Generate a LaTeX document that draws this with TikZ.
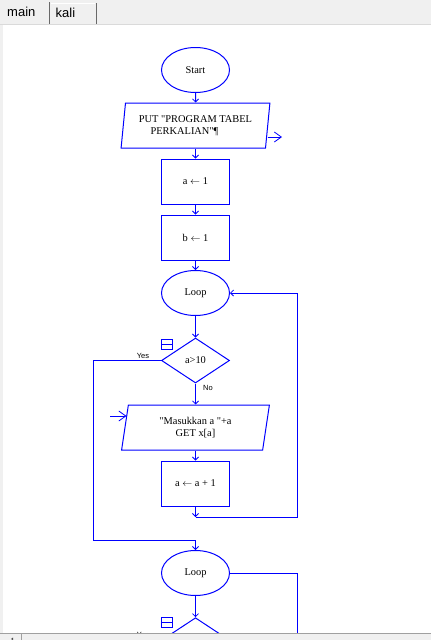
\documentclass[tikz,border=0pt]{standalone}
\usepackage{fontspec}
\setmainfont{Liberation Serif}[Ligatures=TeXOff]
\newfontfamily\uifont{Liberation Sans}
\usetikzlibrary{shapes.geometric,arrows.meta}
\definecolor{flowblue}{RGB}{0,0,255}
\definecolor{panelgray}{RGB}{240,240,240}
\definecolor{framegray}{RGB}{160,160,160}
\definecolor{tabedge}{RGB}{105,105,105}
\definecolor{tabline}{RGB}{218,218,218}

\begin{document}
\begin{tikzpicture}[x=1pt,y=-1pt,
  base/.style={draw=flowblue, line width=1pt, inner sep=0pt, align=center,
    font=\fontsize{10.4}{12}\selectfont},
  term/.style={base, ellipse, minimum width=68pt, minimum height=45pt},
  proc/.style={base, rectangle, minimum width=68pt, minimum height=45pt},
  io/.style={base, trapezium, trapezium left angle=80, trapezium right angle=100,
    trapezium stretches=true, minimum width=149pt, minimum height=45pt},
  cond/.style={base, diamond, minimum width=68pt, minimum height=45pt},
  fold/.style={draw=flowblue, line width=1pt, minimum width=11pt, minimum height=10pt, inner sep=0pt},
  wire/.style={draw=flowblue, line width=1pt},
  flow/.style={wire, -{Straight Barb[length=3pt,width=6pt,line width=0.8pt]}},
  bigflow/.style={wire, -{Straight Barb[length=7pt,width=10pt,line width=0.8pt]}},
  tag/.style={font=\uifont\fontsize{7.5}{9}\selectfont, inner sep=0pt},
  tabtext/.style={font=\uifont\fontsize{13}{15}\selectfont, inner sep=0pt, anchor=base west},
]
\useasboundingbox (0,0) rectangle (431,640);

% window chrome
\fill[panelgray] (0,0) rectangle (431,640);
\fill[white] (3,25) rectangle (431,633);
\draw[tabline] (0,24.5) -- (431,24.5);
\draw[white] (51,3.5) -- (95,3.5);
\draw[tabedge] (49.5,2) -- (49.5,24);
\draw[tabedge] (96.5,3) -- (96.5,23.5);
\node[tabtext] (maintab) at (7,16) {main};
\node[tabtext] (kalitab) at (55.5,17.5) {kali};

\begin{scope}
\clip (3,25) rectangle (431,633);

% main flow
\node[term] (start) at (195.5,70) {Start};
\node[io] (put) at (195.5,125.5) {PUT "PROGRAM TABEL\\PERKALIAN"¶\hspace*{22pt}};
\node[proc] (a1) at (195.5,181.5) {a $\leftarrow$ 1};
\node[proc] (b1) at (195.5,237.5) {b $\leftarrow$ 1};
\node[term] (loop1) at (195.5,293) {Loop};
\node[cond] (dec1) at (195.5,360.5) {a>10};
\node[io] (get) at (195.5,427.5) {"Masukkan a "+a\\GET x[a]};
\node[proc] (inc) at (195.5,483.5) {a $\leftarrow$ a + 1};
\node[term] (loop2) at (195.5,573) {Loop};
\node[cond] (dec2) at (195.5,640.2) {};

% collapse icons
\node[fold] (fold1) at (167.2,344) {};
\draw[wire] (fold1.west) -- (fold1.east);
\node[fold] (fold2) at (167.2,622.8) {};
\draw[wire] (fold2.west) -- (fold2.east);

% branch labels
\node[tag] (yes1) at (143,356) {Yes};
\node[tag] (no1) at (208,388) {No};
\node[tag] (yes2) at (143,634.5) {Yes};

% helper points
\coordinate (putout) at (282,137);
\coordinate (getin) at (110,416);
\coordinate (join1) at (195.5,517);
\coordinate (back1) at (297,517);
\coordinate (exit1) at (93,540);
\coordinate (back2) at (297,640);

% connectors
\draw[flow] (start) -- (put);
\draw[flow] (put) -- (a1);
\draw[flow] (a1) -- (b1);
\draw[flow] (b1) -- (loop1);
\draw[flow] (loop1) -- (dec1);
\draw[flow] (dec1) -- (get);
\draw[flow] (get) -- (inc);
\draw[flow] (inc) -- (join1);
\draw[flow] (join1) -- (back1) |- (loop1.east);
\draw[flow] (dec1.west) -| (exit1) -| (loop2.north);
\draw[flow] (loop2) -- (dec2);
\draw[wire] (loop2.east) -| (back2);
\draw[bigflow] (put.east |- putout) -- (putout);
\draw[bigflow] (getin) -- ([xshift=2pt]getin -| get.west);
\end{scope}

% scroll bar
\draw[framegray] (0,633.5) -- (431,633.5);
\draw[framegray] (21.5,634) -- (21.5,640);
\fill[black!70] (11,639) -- (13,637.5) -- (13,640) -- cycle;
\end{tikzpicture}
\end{document}
